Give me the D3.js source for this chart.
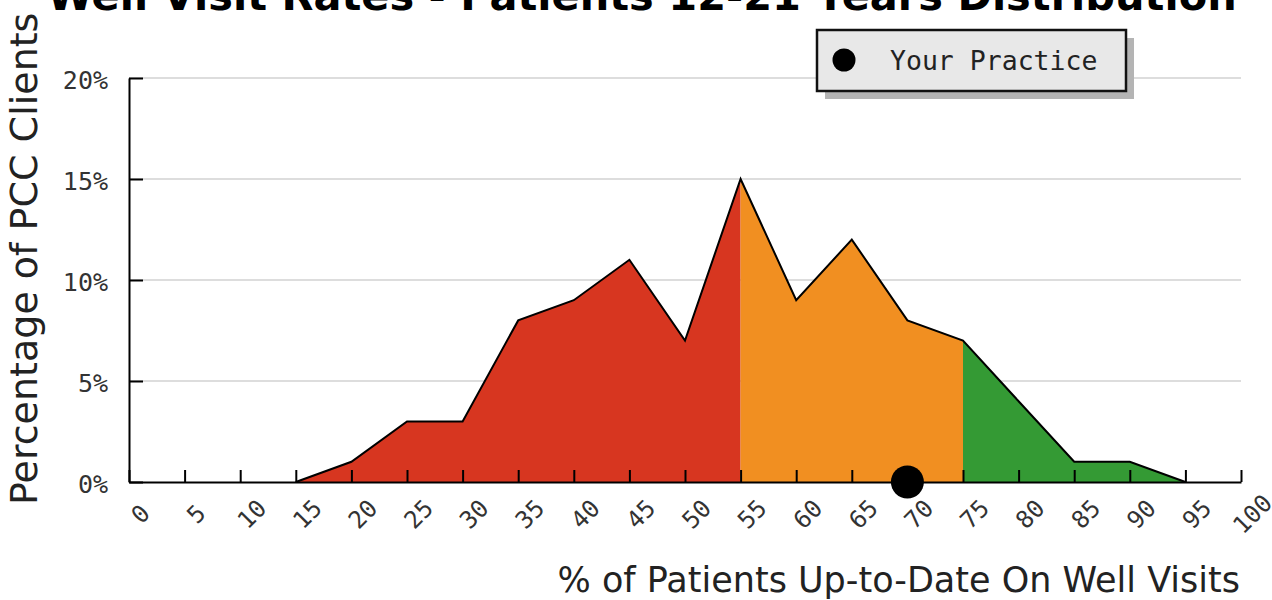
<!DOCTYPE html>
<html>
<head>
<meta charset="utf-8">
<script src="https://cdn.jsdelivr.net/npm/d3@7"></script>
<style>
body{margin:0;background:#fff;overflow:hidden;}
</style>
</head>
<body>
<div class="canvas"></div>
<script>

// data

var rates = [15,20,25,30,35,40,45,50,55,60,65,70,75,80,85,90,95];
var clients = [0,1,3,3,8,9,11,7,15,9,12,8,7,4,1,1,0];
var bandLimits = [0,55,75,100];
var bandColors = ['#d73620','#f18f21','#349a34'];
var xTicks = [0,5,10,15,20,25,30,35,40,45,50,55,60,65,70,75,80,85,90,95,100];
var yTicks = [0,5,10,15,20];
var practice = [70];


var width = 1272, height = 600;
var monoFont = "'DejaVu Sans Mono', monospace";

var svg = d3.select('.canvas')
    .append('svg')
    .attr('width',width)
    .attr('height',height);

var x = d3.scaleLinear().domain([0,100]).range([129,1241]);
var y = d3.scaleLinear().domain([0,20]).range([482,78]);

var points = rates.map(function(r,i){ return {x:r, y:clients[i]}; });

// grid
svg.selectAll('.grid')
    .data(yTicks.filter(function(d){ return d>0; }))
    .enter().append('line')
    .attr('x1',x(0))
    .attr('x2',x(100))
    .attr('y1',function(d){ return y(d); })
    .attr('y2',function(d){ return y(d); })
    .attr('stroke','#dddddd')
    .attr('stroke-width',2);

// coloured bands of the area
var area = d3.area()
    .x(function(d){ return x(d.x); })
    .y0(y(0))
    .y1(function(d){ return y(d.y); });

var defs = svg.append('defs');
bandColors.forEach(function(c,i){
    defs.append('clipPath')
        .attr('id','band'+i)
        .append('rect')
        .attr('x',x(bandLimits[i]))
        .attr('y',0)
        .attr('width',x(bandLimits[i+1])-x(bandLimits[i]))
        .attr('height',height);

    svg.append('path')
        .datum(points)
        .attr('d',area)
        .attr('fill',c)
        .attr('clip-path','url(#band'+i+')');
});

var line = d3.line()
    .x(function(d){ return x(d.x); })
    .y(function(d){ return y(d.y); });

svg.append('path')
    .datum(points)
    .attr('d',line)
    .attr('fill','none')
    .attr('stroke','#000')
    .attr('stroke-width',2);

// axes
var xAxis = svg.append('g')
    .attr('transform','translate(0,'+y(0)+')')
    .call(d3.axisBottom(x).tickValues(xTicks).tickSize(-12).tickSizeOuter(0));

xAxis.selectAll('.tick text')
    .attr('y',0)
    .attr('dy','0.35em')
    .attr('text-anchor','middle')
    .attr('transform','translate(11,32) rotate(-45)')
    .attr('font-family',monoFont)
    .attr('font-size','24px')
    .attr('fill','#333');

var yAxis = svg.append('g')
    .attr('transform','translate('+x(0)+',0)')
    .call(d3.axisLeft(y).tickValues(yTicks).tickSize(-14).tickSizeOuter(0).tickPadding(21)
        .tickFormat(function(d){ return d+'%'; }));

yAxis.selectAll('.tick text')
    .attr('dy','0.42em')
    .attr('font-family',monoFont)
    .attr('font-size','25px')
    .attr('fill','#333');

svg.selectAll('.domain, .tick line')
    .attr('stroke','#000')
    .attr('stroke-width',2);

// practice marker
svg.selectAll('.practice')
    .data(practice)
    .enter().append('circle')
    .attr('cx',function(d){ return x(d); })
    .attr('cy',y(0))
    .attr('r',16.5)
    .attr('fill','#000');

// titles
svg.append('text')
    .attr('x',642)
    .attr('y',10)
    .attr('text-anchor','middle')
    .attr('font-family','DejaVu Sans')
    .attr('font-weight','bold')
    .attr('font-size','41.5px')
    .attr('fill','#000')
    .text('Well Visit Rates - Patients 12-21 Years Distribution');

svg.append('text')
    .attr('x',1240)
    .attr('y',592)
    .attr('text-anchor','end')
    .attr('font-family','DejaVu Sans')
    .attr('font-size','35px')
    .attr('fill','#222')
    .text('% of Patients Up-to-Date On Well Visits');

svg.append('text')
    .attr('transform','translate(37,505) rotate(-90)')
    .attr('text-anchor','start')
    .attr('font-family','DejaVu Sans')
    .attr('font-size','38px')
    .attr('fill','#222')
    .text('Percentage of PCC Clients');

// legend
var legend = svg.append('g').attr('transform','translate(817,30)');
legend.append('rect')
    .attr('x',8).attr('y',8)
    .attr('width',309).attr('height',61)
    .attr('fill','#b4b4b4');
legend.append('rect')
    .attr('width',309).attr('height',61)
    .attr('fill','#e8e8e8')
    .attr('stroke','#111')
    .attr('stroke-width',2.5);
legend.append('circle')
    .attr('cx',27).attr('cy',30)
    .attr('r',11.5)
    .attr('fill','#000');
legend.append('text')
    .attr('x',73).attr('y',40)
    .attr('font-family',monoFont)
    .attr('font-size','26.5px')
    .attr('fill','#222')
    .text('Your Practice');

</script>
</body>
</html>
